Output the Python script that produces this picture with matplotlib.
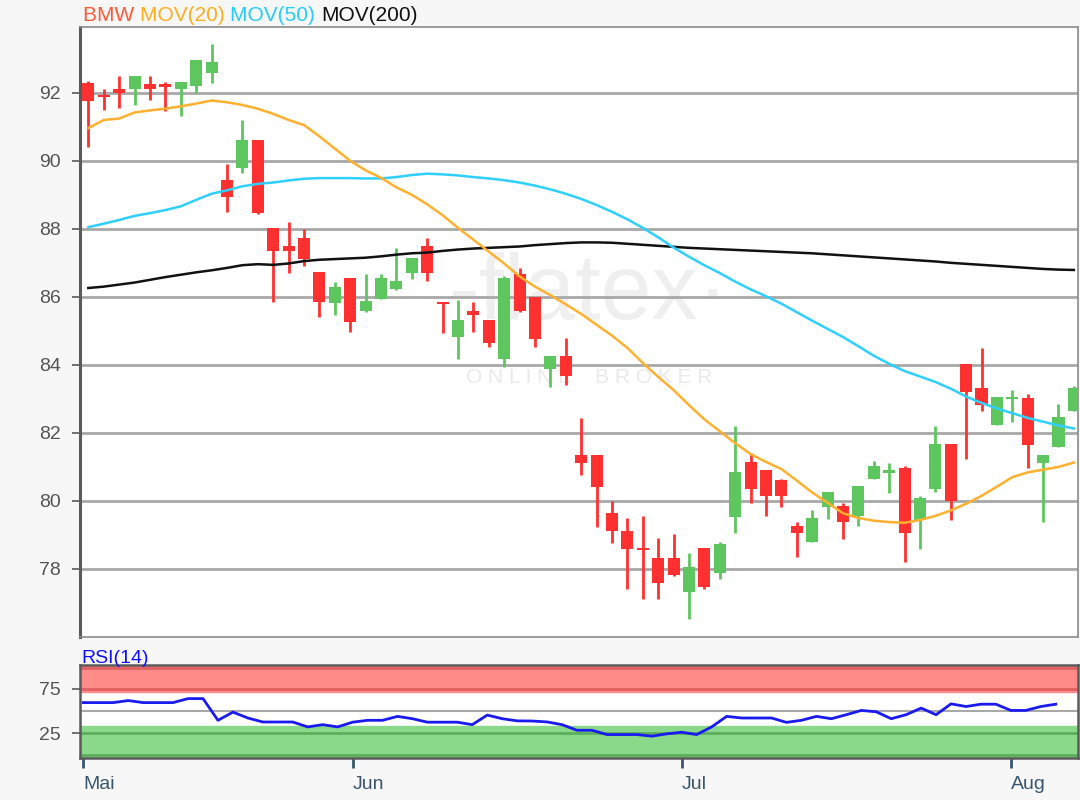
# -*- coding: utf-8 -*-
"""
BMW daily candles with MOV(20/50/200) and RSI(14) panel
"""

import numpy as np
import matplotlib.pyplot as plt

plt.rcParams['font.family'] = ['Liberation Sans', 'DejaVu Sans']

## ------------------------------- Data ------------------------------------##
# daily OHLC
opens = [92.30, 91.92, 92.10, 92.11, 92.26, 92.26, 92.11, 92.19, 92.58, 89.43,
         89.80, 90.62, 88.02, 87.50, 87.73, 86.73, 85.81, 86.55, 85.57, 85.93,
         86.23, 86.70, 87.50, 85.86, 84.81, 85.57, 85.32, 84.17, 86.68, 86.00,
         83.87, 84.26, 81.35, 81.35, 79.66, 79.13, 78.61, 78.31, 78.31, 77.33,
         78.61, 77.87, 79.52, 81.14, 80.91, 80.62, 79.26, 78.80, 79.81, 79.85,
         79.56, 80.64, 80.81, 80.98, 79.44, 80.34, 81.67, 84.03, 83.31, 82.24,
         82.99, 83.02, 81.11, 81.58, 82.65]
highs = [92.35, 92.10, 92.50, 92.50, 92.50, 92.32, 92.32, 92.95, 93.44, 89.90,
         91.20, 90.62, 88.02, 88.20, 88.00, 86.73, 86.43, 86.55, 86.68, 86.68,
         87.45, 87.14, 87.73, 85.86, 85.91, 85.86, 85.32, 86.60, 86.84, 86.00,
         84.25, 84.79, 82.43, 81.35, 80.00, 79.49, 79.56, 78.90, 79.02, 78.48,
         78.61, 78.80, 82.21, 81.40, 80.91, 80.65, 79.39, 79.74, 80.26, 79.93,
         80.44, 81.16, 81.11, 81.03, 80.15, 82.21, 81.67, 84.03, 84.49, 83.07,
         83.26, 83.15, 81.35, 82.85, 83.38]
lows = [90.40, 91.50, 91.55, 91.65, 91.80, 91.45, 91.33, 92.00, 92.28, 88.50,
        89.64, 88.44, 85.86, 86.70, 86.90, 85.40, 85.47, 84.98, 85.55, 85.93,
        86.20, 86.52, 86.47, 84.93, 84.17, 84.98, 84.52, 83.95, 85.55, 84.52,
        83.34, 83.41, 80.76, 79.24, 78.76, 77.40, 77.11, 77.11, 77.80, 76.52,
        77.42, 77.70, 79.05, 79.93, 79.57, 79.81, 78.34, 78.80, 79.46, 78.87,
        79.26, 80.64, 80.23, 78.21, 78.58, 80.27, 79.44, 81.22, 82.63, 82.24,
        82.33, 80.98, 79.39, 81.58, 82.65]
closes = [91.75, 91.87, 92.00, 92.50, 92.10, 92.18, 92.31, 92.95, 92.90, 88.94,
          90.62, 88.46, 87.35, 87.35, 87.10, 85.86, 86.30, 85.27, 85.89, 86.55,
          86.48, 87.14, 86.70, 85.79, 85.32, 85.47, 84.64, 86.55, 85.59, 84.75,
          84.25, 83.66, 81.13, 80.42, 79.12, 78.59, 78.55, 77.60, 77.82, 78.07,
          77.46, 78.73, 80.84, 80.34, 80.16, 80.16, 79.05, 79.49, 80.26, 79.39,
          80.44, 81.03, 80.91, 79.05, 80.10, 81.67, 80.00, 83.21, 82.82, 83.07,
          83.05, 81.65, 81.35, 82.48, 83.31]

# moving averages
mov20 = [90.96, 91.20, 91.24, 91.42, 91.48, 91.53, 91.60, 91.68, 91.77, 91.72,
         91.64, 91.53, 91.38, 91.20, 91.05, 90.72, 90.36, 90.00, 89.72, 89.50,
         89.22, 89.00, 88.72, 88.40, 88.03, 87.68, 87.33, 86.98, 86.60, 86.30,
         86.05, 85.78, 85.50, 85.18, 84.86, 84.50, 84.06, 83.65, 83.26, 82.82,
         82.40, 82.05, 81.70, 81.38, 81.15, 80.94, 80.60, 80.25, 79.95, 79.64,
         79.50, 79.42, 79.38, 79.36, 79.44, 79.56, 79.72, 79.92, 80.15, 80.42,
         80.70, 80.84, 80.92, 81.00, 81.13]
mov50 = [88.05, 88.15, 88.26, 88.38, 88.46, 88.55, 88.66, 88.85, 89.03, 89.13,
         89.25, 89.32, 89.36, 89.42, 89.47, 89.49, 89.49, 89.49, 89.48, 89.48,
         89.52, 89.58, 89.62, 89.60, 89.57, 89.52, 89.48, 89.43, 89.36, 89.27,
         89.16, 89.03, 88.88, 88.70, 88.50, 88.28, 88.03, 87.75, 87.45, 87.18,
         86.93, 86.70, 86.45, 86.22, 86.02, 85.80, 85.55, 85.30, 85.06, 84.82,
         84.55, 84.27, 84.03, 83.82, 83.66, 83.50, 83.30, 83.07, 82.88, 82.72,
         82.58, 82.44, 82.33, 82.22, 82.13]
mov200 = [86.26, 86.30, 86.36, 86.42, 86.50, 86.58, 86.65, 86.72, 86.78, 86.85,
          86.93, 86.96, 86.94, 86.98, 87.05, 87.09, 87.11, 87.13, 87.15, 87.19,
          87.24, 87.28, 87.30, 87.35, 87.39, 87.42, 87.44, 87.46, 87.48, 87.52,
          87.55, 87.58, 87.60, 87.60, 87.59, 87.56, 87.53, 87.50, 87.47, 87.44,
          87.42, 87.40, 87.38, 87.36, 87.34, 87.32, 87.30, 87.28, 87.25, 87.22,
          87.19, 87.16, 87.13, 87.10, 87.07, 87.04, 87.00, 86.97, 86.94, 86.91,
          86.88, 86.85, 86.82, 86.80, 86.79]

# RSI(14)
rsi = [59.2, 59.2, 59.2, 61.5, 59.2, 59.2, 59.2, 63.7, 63.7, 39.3,
       48.5, 41.9, 37.4, 37.4, 37.4, 31.9, 34.4, 31.9, 37.2, 39.3,
       39.3, 43.7, 41.1, 37.2, 37.2, 37.2, 34.4, 45.2, 41.1, 38.7,
       38.5, 37.5, 34.4, 28.1, 28.1, 23.3, 23.3, 23.3, 21.5, 24.1,
       25.9, 23.3, 31.9, 43.7, 41.9, 41.9, 41.9, 37.0, 39.3, 43.7,
       41.1, 45.6, 50.4, 48.9, 41.1, 45.6, 53.0, 45.6, 57.8, 54.8,
       57.4, 57.4, 50.4, 50.4, 54.8, 57.4]

months = ['Mai', 'Jun', 'Jul', 'Aug']
month_idx = [0, 18, 40, 62]   # index of first RSI point in each month

price_ticks = [78, 80, 82, 84, 86, 88, 90, 92]
rsi_ticks = [25, 75]

legend_items = [('BMW ', '#ff5a36'), ('MOV(20) ', '#ffad1a'),
                ('MOV(50) ', '#22ccff'), ('MOV(200)', '#111111')]

## ------------------------------ Colours ----------------------------------##
c_up = '#5ec65e'
c_down = '#ff3030'
c_mov20 = '#ffb02e'
c_mov50 = '#2fd0ff'
c_mov200 = '#111111'
c_axis = '#5a5a5a'
c_grid = '#a8a8a8'
c_month = '#3b566e'

## ------------------------------ Figure -----------------------------------##
fig = plt.figure(figsize=(10.8, 8), dpi=100, facecolor='#f7f7f7')
ax = fig.add_axes([0.0741, 0.2037, 0.9241, 0.7629])
ax2 = fig.add_axes([0.0741, 0.0521, 0.9241, 0.1166])

## --------------------------- Price panel ---------------------------------##
idx = np.arange(len(opens))
o = np.array(opens)
h = np.array(highs)
l = np.array(lows)
c = np.array(closes)
cols = np.where(c >= o, c_up, c_down)
body_lo = np.minimum(o, c)
body_h = np.maximum(np.abs(c - o), 0.07)

# watermark
ax.text(0.51, 0.56, '-flatex\u00b7', transform=ax.transAxes, ha='center', va='center',
        fontsize=66, color='#efefef', zorder=0)
ax.text(0.51, 0.425, 'O N L I N E    B R O K E R', transform=ax.transAxes, ha='center',
        va='center', fontsize=15, color='#eaeaea', zorder=0)

ax.vlines(idx, l, h, colors=cols, linewidth=2, zorder=3)
ax.bar(idx, body_h, bottom=body_lo, width=0.78, color=cols, zorder=4)

ax.plot(idx, mov200, color=c_mov200, linewidth=1.8, zorder=5)
ax.plot(idx, mov50, color=c_mov50, linewidth=1.8, zorder=5)
ax.plot(idx, mov20, color=c_mov20, linewidth=1.8, zorder=5)

ax.set_xlim(-0.54, 64.27)
ax.set_ylim(76.0, 93.94)
ax.set_yticks(price_ticks)
ax.set_xticks([])
ax.yaxis.grid(True, color=c_grid, linewidth=2)
ax.set_axisbelow(True)
ax.tick_params(axis='y', length=6, width=1.2, color=c_axis, labelcolor='#555555',
               labelsize=14, pad=8)
for side in ['top', 'right', 'bottom']:
    ax.spines[side].set_color('#8a8a8a')
    ax.spines[side].set_linewidth(1.2)
ax.spines['left'].set_color(c_axis)
ax.spines['left'].set_linewidth(2.2)

# legend as coloured words, each placed right after the previous one
t = None
for s, col in legend_items:
    if t is None:
        t = ax.annotate(s, xy=(83 / 1080, 1 - 21 / 800), xycoords='figure fraction',
                        color=col, fontsize=15, va='baseline')
    else:
        t = ax.annotate(s, xy=(1, 0), xycoords=t, color=col, fontsize=15, va='bottom')

## ---------------------------- RSI panel ----------------------------------##
ax2.axhspan(71.0, 102, color='#ff8a8a', zorder=1)
ax2.axhspan(-5, 33.0, color='#8ad88a', zorder=1)
for yv in [98, 75]:
    ax2.axhline(yv, color='#e06060', linewidth=2, zorder=2)
for yv in [25, 0.3]:
    ax2.axhline(yv, color='#5cae5c', linewidth=2, zorder=2)
ax2.axhline(50, color='#a8a8a8', linewidth=1.5, zorder=2)
ax2.plot(np.arange(len(rsi)), rsi, color='#1a1aee', linewidth=2, zorder=4)

ax2.set_xlim(-0.22, 66.49)
ax2.set_ylim(-3.4, 101.4)
ax2.set_yticks(rsi_ticks)
ax2.set_xticks(month_idx)
ax2.set_xticklabels(months, ha='left')
ax2.tick_params(axis='y', length=6, width=1.2, color=c_axis, labelcolor='#555555',
                labelsize=14, pad=8)
ax2.tick_params(axis='x', length=7, width=2, color=c_month, labelcolor=c_month,
                labelsize=14, pad=6)
for side in ax2.spines:
    ax2.spines[side].set_color(c_axis)
    ax2.spines[side].set_linewidth(1.8)

fig.text(81 / 1080, 1 - 663 / 800, 'RSI(14)', color='#1010ff', fontsize=14, va='baseline')

fig.savefig('out.png', dpi=100, facecolor=fig.get_facecolor())
